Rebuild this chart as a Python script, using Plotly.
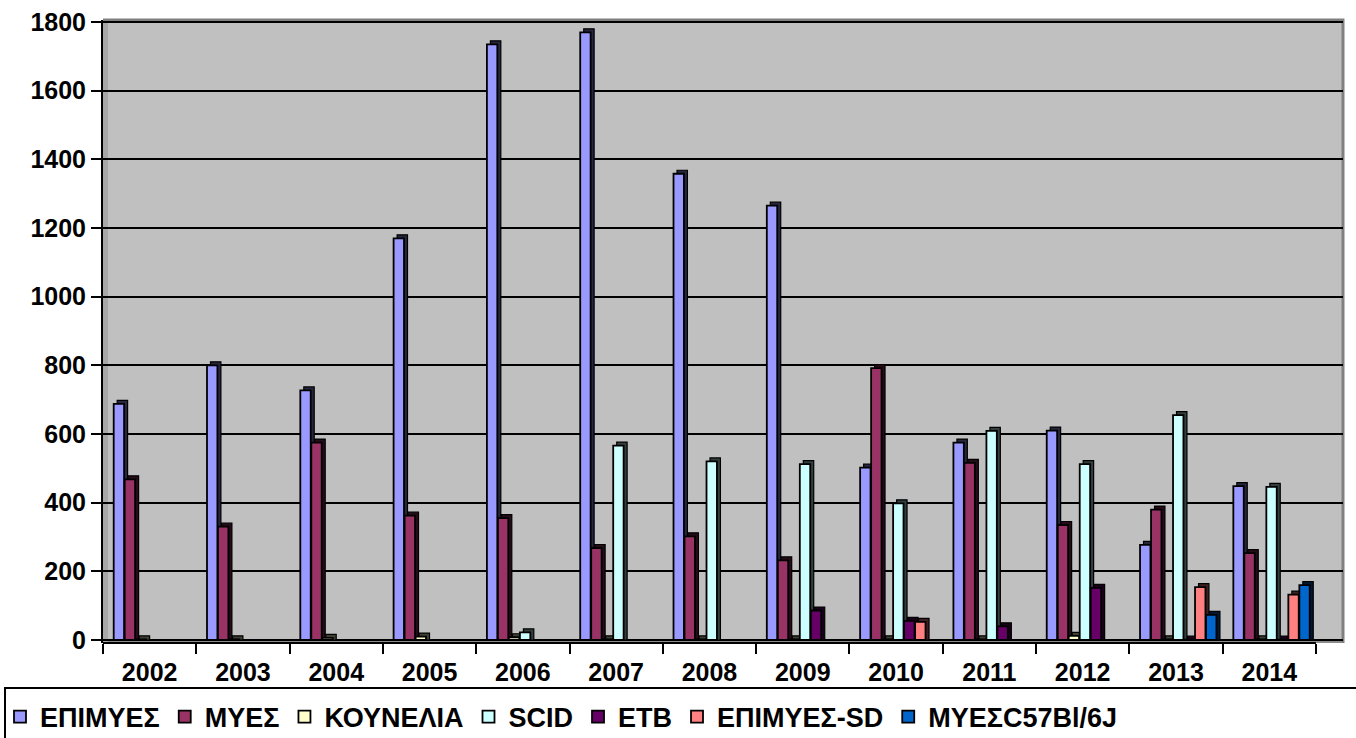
import plotly.graph_objects as go

# Annual counts per animal category
years = ["2002", "2003", "2004", "2005", "2006", "2007", "2008",
         "2009", "2010", "2011", "2012", "2013", "2014"]

epimyes = [688, 800, 727, 1170, 1735, 1770, 1358, 1265, 502, 575, 610, 277, 448]
myes = [468, 330, 575, 362, 355, 268, 302, 232, 792, 516, 335, 380, 253]
kounelia = [2, 2, 6, 10, 8, 2, 2, 2, 2, 2, 12, 2, 2]
scid = [None, None, None, None, 22, 566, 520, 512, 398, 609, 512, 655, 446]
etb = [None, None, None, None, None, None, None, 86, 56, 40, 152, 1, 1]
epimyes_sd = [None, None, None, None, None, None, None, None, 53, None, None, 154, 132]
myes_c57 = [None, None, None, None, None, None, None, None, None, None, None, 73, 160]

series = [
    ("ΕΠΙΜΥΕΣ", epimyes, "#9999FF"),
    ("ΜΥΕΣ", myes, "#993366"),
    ("ΚΟΥΝΕΛΙΑ", kounelia, "#FFFFCC"),
    ("SCID", scid, "#CCFFFF"),
    ("ETB", etb, "#660066"),
    ("ΕΠΙΜΥΕΣ-SD", epimyes_sd, "#FF8080"),
    ("ΜΥΕΣC57Bl/6J", myes_c57, "#0066CC"),
]

FONT = "Liberation Sans, Arial, sans-serif"

# page geometry (pixels)
W, H = 1356, 738
ML, MR, MT, MB = 103, 13, 20, 95
PW, PH = W - ML - MR, H - MT - MB

# y range so that 0 sits slightly above the axis line (thin floor band)
Y0, Y1 = -8.7, 1805.8
units_per_px = (Y1 - Y0) / PH

# bar slot layout within each year (in category units)
cat_px = 93.3
pitch = 11.0 / cat_px
face = 10.4 / cat_px
first = -0.5 + 10.7 / cat_px
depth_x = 3.5 / cat_px
depth_y = 3.5 * units_per_px


def darken(hex_color, f):
    h = hex_color.lstrip("#")
    r, g, b = (int(h[i:i + 2], 16) for i in (0, 2, 4))
    return "rgb(%d,%d,%d)" % (int(r * f), int(g * f), int(b * f))


fig = go.Figure()
for i, (name, vals, color) in enumerate(series):
    off = first + i * pitch
    # depth block behind each bar: top and side faces
    fig.add_trace(go.Bar(
        x=years,
        y=[None if v is None else v + depth_y for v in vals],
        offset=off + depth_x, width=face,
        marker=dict(color=darken(color, 0.25), line=dict(color="black", width=1.2)),
        showlegend=False, hoverinfo="skip",
    ))
    # front face
    fig.add_trace(go.Bar(
        x=years, y=vals, name=name,
        offset=off, width=face,
        marker=dict(color=color, line=dict(color="black", width=1.8)),
    ))

shapes = [
    # floor band
    dict(type="rect", xref="paper", yref="y", x0=0, x1=1, y0=Y0, y1=0,
         fillcolor="#8C8C8C", line=dict(width=0), layer="below"),
    # left side wall
    dict(type="rect", xref="paper", yref="paper", x0=0, x1=5 / PW, y0=0, y1=1,
         fillcolor="#A8A8A8", line=dict(width=0), layer="below"),
    # wall edge on top and right
    dict(type="path", xref="paper", yref="paper",
         path="M 0,1 L 1,1 L 1,0", line=dict(color="#808080", width=3), layer="below"),
    # x axis line across the year categories
    dict(type="line", xref="x", yref="paper", x0=-0.5, x1=12.5, y0=0, y1=0,
         line=dict(color="black", width=2)),
    # legend frame
    dict(type="rect", xref="paper", yref="paper",
         x0=(5 - ML) / PW, x1=(W + 10 - ML) / PW,
         y0=(H - MB - 688) / PH, y1=(H - MB - 760) / PH,
         line=dict(color="black", width=2), fillcolor="rgba(0,0,0,0)"),
]

fig.update_layout(
    width=W, height=H,
    margin=dict(l=ML, r=MR, t=MT, b=MB, autoexpand=False),
    paper_bgcolor="white",
    plot_bgcolor="#C0C0C0",
    barmode="overlay",
    font=dict(family=FONT, color="black"),
    shapes=shapes,
    showlegend=True,
    legend=dict(
        orientation="h", xref="container", yref="container",
        x=0.0, xanchor="left", y=1 - 717 / H, yanchor="middle",
        font=dict(family=FONT, size=27, color="black", weight="bold"),
        bgcolor="rgba(0,0,0,0)", borderwidth=0,
        itemwidth=30, tracegroupgap=0,
    ),
)

fig.update_xaxes(
    type="category", range=[-0.5, 12.79], automargin=False,
    tickson="boundaries", ticks="outside", ticklen=10, tickwidth=2, tickcolor="black",
    ticklabelstandoff=12,
    showgrid=False, showline=False, zeroline=False,
    tickfont=dict(family=FONT, size=25, color="black", weight="bold"),
)

fig.update_yaxes(
    range=[Y0, Y1], automargin=False,
    tickvals=list(range(0, 2000, 200)),
    ticks="outside", ticklen=10, tickwidth=2, tickcolor="black",
    showgrid=True, gridcolor="black", gridwidth=2,
    zeroline=True, zerolinecolor="black", zerolinewidth=2,
    showline=True, linecolor="black", linewidth=2,
    tickfont=dict(family=FONT, size=25, color="black", weight="bold"),
)

fig.write_html("out.html")
